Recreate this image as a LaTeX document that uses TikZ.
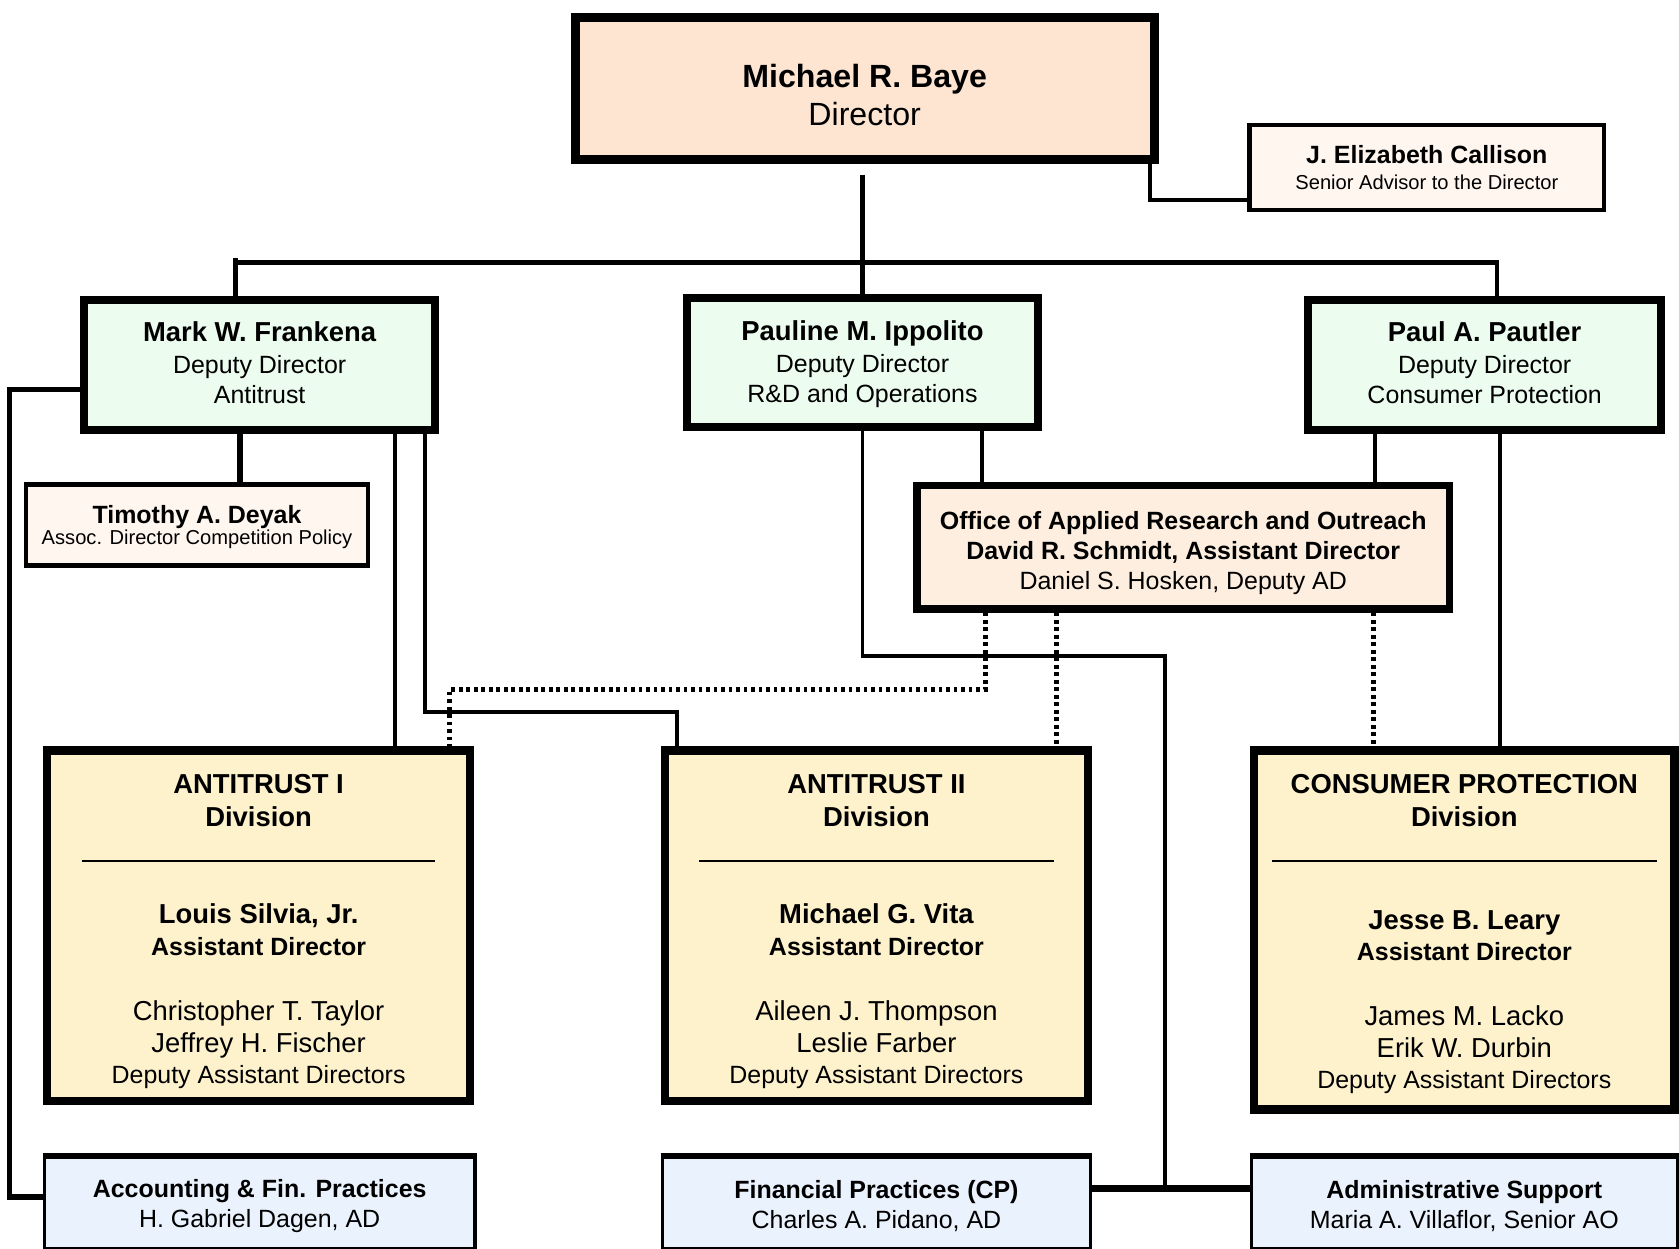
\documentclass[tikz,border=0pt]{standalone}
\usepackage{fontspec}
\setmainfont{Liberation Sans}
\usepackage{xcolor}
\usepackage{tikz}

\definecolor{dirfill}{HTML}{FDE5D2}
\definecolor{advfill}{HTML}{FEF6EF}
\definecolor{depfill}{HTML}{ECFCEF}
\definecolor{oarofill}{HTML}{FDEEE0}
\definecolor{divfill}{HTML}{FEF2CD}
\definecolor{supfill}{HTML}{EAF2FD}

\newcommand{\szA}{\fontsize{30}{36}\selectfont}
\newcommand{\szB}{\fontsize{25.6}{30}\selectfont}
\newcommand{\szC}{\fontsize{23.3}{28}\selectfont}
\newcommand{\szD}{\fontsize{18.8}{22}\selectfont}
\newcommand{\tallstrut}[1]{\rule{0pt}{#1}}
\newcommand{\deepstrut}{\rule[-5pt]{0pt}{5pt}}

\begin{document}
\begin{tikzpicture}[x=1pt, y=-1pt,
    box/.style={draw=black, rectangle, inner sep=0pt, align=center, text=black},
    dirbox/.style={box, fill=dirfill, line width=8.5pt, minimum width=540.5pt, minimum height=132.5pt, font=\szA},
    advbox/.style={box, fill=advfill, line width=4pt, font=\szD},
    depbox/.style={box, fill=depfill, line width=7.5pt, minimum width=328pt, minimum height=121pt, font=\szC},
    oarobox/.style={box, fill=oarofill, line width=7pt, minimum width=497pt, minimum height=115pt, font=\szC},
    divbox/.style={box, fill=divfill, line width=8pt, minimum width=395pt, minimum height=327pt, font=\szC},
    supbox/.style={box, fill=supfill, line width=3pt, minimum width=400pt, minimum height=87pt, font=\szC},
    link/.style={draw=black, line width=#1},
    link/.default=4pt,
    dotlink/.style={draw=black, line width=4.5pt, dash pattern=on 3.5pt off 3.5pt}]

    \useasboundingbox (0,0) rectangle (1568,1165.5);
    \clip (0,0) rectangle (1568,1165.5);

    % top level
    \node[dirbox] (baye) at (807.5,82.5) {{\tallstrut{34pt}\bfseries Michael R. Baye}\\Director};
    \node[advbox, minimum width=331pt, minimum height=79pt] (callison) at (1332.5,156.5)
        {{\szC\bfseries J. Elizabeth Callison}\\[1.4pt]Senior Advisor to the Director};

    % deputies
    \node[depbox] (frankena) at (242.5,341) {{\szB\bfseries Mark W. Frankena}\\[1.5pt]Deputy Director\\Antitrust\deepstrut};
    \node[depbox] (ippolito) at (805.5,338.5) {{\tallstrut{22pt}\szB\bfseries Pauline M. Ippolito}\\[1.5pt]Deputy Director\\R\&D and Operations\deepstrut};
    \node[depbox, minimum width=329.5pt] (pautler) at (1386.5,341) {{\szB\bfseries Paul A. Pautler}\\[1.5pt]Deputy Director\\Consumer Protection\deepstrut};

    \node[advbox, line width=4.5pt, minimum width=319.5pt, minimum height=75.5pt] (deyak) at (184,490)
        {{\tallstrut{21pt}\szC\bfseries Timothy A. Deyak}\\[-2.6pt]Assoc. Director Competition Policy};
    \node[oarobox] (oaro) at (1105,511)
        {{\tallstrut{27pt}\bfseries Office of Applied Research and Outreach}\\{\bfseries David R. Schmidt, Assistant Director}\\Daniel S. Hosken, Deputy AD};

    % divisions
    \node[divbox] (at1) at (241.5,864.5) {{\tallstrut{28.3pt}\szB\bfseries ANTITRUST I}\\[3pt]{\szB\bfseries Division}\\[5pt]\rule{330pt}{2pt}\\[30pt]
        {\szB\bfseries Louis Silvia, Jr.}\\[1.5pt]{\bfseries Assistant Director}\\[32.5pt]
        {\szB Christopher T. Taylor}\\[2pt]{\szB Jeffrey H. Fischer}\\[1pt]Deputy Assistant Directors};
    \node[divbox] (at2) at (818.5,864.5) {{\tallstrut{28.3pt}\szB\bfseries ANTITRUST II}\\[3pt]{\szB\bfseries Division}\\[5pt]\rule{331pt}{2pt}\\[30pt]
        {\szB\bfseries Michael G. Vita}\\[1.5pt]{\bfseries Assistant Director}\\[32.5pt]
        {\szB Aileen J. Thompson}\\[2pt]{\szB Leslie Farber}\\[1pt]Deputy Assistant Directors};
    \node[divbox, minimum width=393pt, minimum height=335pt] (cpd) at (1367.5,868.5) {{\tallstrut{25.3pt}\szB\bfseries CONSUMER PROTECTION}\\[3pt]{\szB\bfseries Division}\\[5pt]\rule{360pt}{2pt}\\[35pt]
        {\szB\bfseries Jesse B. Leary}\\[1.5pt]{\bfseries Assistant Director}\\[32.5pt]
        {\szB James M. Lacko}\\[2pt]{\szB Erik W. Durbin}\\[1pt]Deputy Assistant Directors};

    % support offices
    \node[supbox, minimum width=402pt] (acct) at (242.5,1123) {{\tallstrut{23.3pt}\bfseries Accounting \& Fin. Practices}\\H. Gabriel Dagen, AD};
    \node[supbox] (fp) at (818.5,1123) {{\tallstrut{23.3pt}\bfseries Financial Practices (CP)}\\Charles A. Pidano, AD};
    \node[supbox, minimum width=398pt] (admin) at (1367.5,1123) {{\tallstrut{23.3pt}\bfseries Administrative Support}\\Maria A. Villaflor, Senior AO};
    \foreach \n in {acct, fp, admin}
        \draw[link=6pt] ([yshift=-1.5pt]\n.north west) -- ([yshift=-1.5pt]\n.north east);

    % solid lines
    \coordinate (busL) at (220,245);
    \coordinate (busR) at (1398,245);
    \draw[link=5.5pt] ([yshift=-10pt]baye.south -| ippolito.north) -- (ippolito.north); % baye-ippolito
    \draw[link=4.5pt] ([xshift=-2.25pt]busL) -- ([xshift=2.25pt]busR); % bus
    \draw[link=4.5pt] ([yshift=4pt]busL) -- (busL |- frankena.north); % bus-frankena
    \draw[link=4.5pt] (busR) -- (busR |- pautler.north); % bus-pautler
    \draw[link=3.5pt] ([xshift=-8pt]baye.south east) |- ([yshift=-30pt]callison.west); % baye-callison

    \draw[link=6pt] ([xshift=-18.5pt]frankena.south) -- ([xshift=-18.5pt]frankena.south |- deyak.north); % frankena-deyak
    \draw[link=5pt] ([yshift=-23pt]frankena.west) -- ++(-66,0) |- ([yshift=5pt]acct.west); % frankena-acct
    \draw[link] ([xshift=126.5pt]frankena.south) -- ([xshift=126.5pt]frankena.south |- at1.north); % frankena-at1
    \draw[link] ([xshift=154.5pt]frankena.south) -- ++(0,260) -| ([xshift=-186.5pt]at2.north); % frankena-at2

    \draw[link=3.5pt] ([xshift=111.5pt]ippolito.south) -- ([xshift=111.5pt]ippolito.south |- oaro.north); % ippolito-oaro
    \draw[link=7pt] ([yshift=13pt]fp.east) -- coordinate[pos=0.46] (tap) ([yshift=13pt]admin.west); % fp-admin
    \draw[link=3.5pt] (ippolito.south) -- ++(0,210) -| (tap); % ippolito-fp/admin

    \draw[link=3.5pt] ([xshift=-102.5pt]pautler.south) -- ([xshift=-102.5pt]pautler.south |- oaro.north); % pautler-oaro
    \draw[link=3.5pt] ([xshift=14.5pt]pautler.south) -- ([xshift=14.5pt]pautler.south |- cpd.north); % pautler-cpd

    % dotted lines
    \draw[dotlink] ([xshift=-185pt]oaro.south) -- ++(0,72) -| ([xshift=178.5pt]at1.north); % oaro-at1
    \draw[dotlink] ([xshift=-118pt]oaro.south) -- ([xshift=-118pt]oaro.south |- at2.north); % oaro-at2
    \draw[dotlink] ([xshift=178pt]oaro.south) -- ([xshift=178pt]oaro.south |- cpd.north); % oaro-cpd
\end{tikzpicture}
\end{document}
